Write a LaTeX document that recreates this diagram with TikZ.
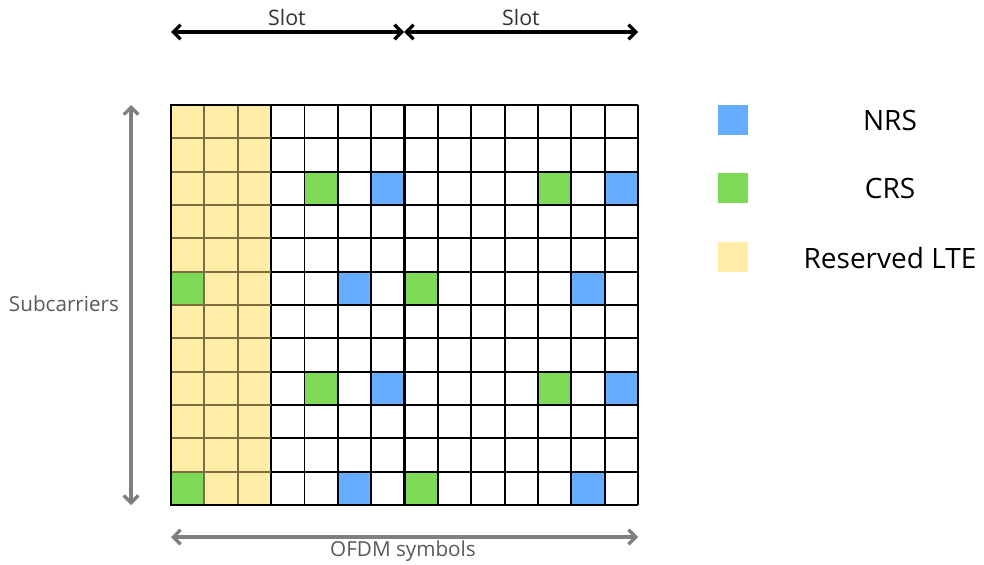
\documentclass[tikz,border=0pt]{standalone}
\usepackage{fontspec}
\setmainfont{Open Sans}
\usetikzlibrary{arrows.meta}

\definecolor{nrsblue}{HTML}{66ADFF}
\definecolor{crsgreen}{HTML}{7ED957}
\definecolor{lteyellow}{HTML}{FFEDA8}
\definecolor{lteline}{HTML}{7D6E40}
\definecolor{axisgray}{HTML}{7F7F7F}

\tikzset{
  slotarrow/.style={line width=2.4pt, black, {Straight Barb[length=5.5pt,width=11pt]}-{Straight Barb[length=5.5pt,width=11pt]}},
  axisarrow/.style={line width=2.4pt, axisgray, {Straight Barb[length=5.5pt,width=11pt]}-{Straight Barb[length=5.5pt,width=11pt]}},
  axislabel/.style={font=\fontsize{15.5}{17}\selectfont, text=black!65},
  legendlabel/.style={font=\fontsize{21}{24}\selectfont, text=black},
}

\begin{document}
\begin{tikzpicture}[x=0.75pt,y=-0.75pt]
\useasboundingbox (0,0) rectangle (984,564);
% grid corners and arrow ends
\coordinate (gridNW) at (171,105);
\coordinate (slotW) at (171,32);
\coordinate (slotM) at (404,32);
\coordinate (slotE) at (638,32);
\coordinate (subN) at (131,105);
\coordinate (subS) at (131,505);
\coordinate (symW) at (171,537);
\coordinate (symE) at (638,537);

% resource grid, one unit per resource element
\begin{scope}[shift={(gridNW)}, x=25.018pt, y=-25pt]
\fill[lteyellow] (0,0) rectangle (3,12);
\fill[crsgreen] (4,2) rectangle ++(1,1);
\fill[nrsblue] (6,2) rectangle ++(1,1);
\fill[crsgreen] (11,2) rectangle ++(1,1);
\fill[nrsblue] (13,2) rectangle ++(1,1);
\fill[crsgreen] (0,5) rectangle ++(1,1);
\fill[nrsblue] (5,5) rectangle ++(1,1);
\fill[crsgreen] (7,5) rectangle ++(1,1);
\fill[nrsblue] (12,5) rectangle ++(1,1);
\fill[crsgreen] (4,8) rectangle ++(1,1);
\fill[nrsblue] (6,8) rectangle ++(1,1);
\fill[crsgreen] (11,8) rectangle ++(1,1);
\fill[nrsblue] (13,8) rectangle ++(1,1);
\fill[crsgreen] (0,11) rectangle ++(1,1);
\fill[nrsblue] (5,11) rectangle ++(1,1);
\fill[crsgreen] (7,11) rectangle ++(1,1);
\fill[nrsblue] (12,11) rectangle ++(1,1);
\foreach \c in {3,...,14} \draw[line width=1.4pt] (\c,0) -- (\c,12);
\foreach \r in {0,...,12} \draw[line width=1.4pt] (3,\r) -- (14,\r);
\foreach \c in {1,2} \draw[line width=1.4pt, lteline] (\c,0) -- (\c,12);
\foreach \r in {1,...,11} \draw[line width=1.4pt, lteline] (0,\r) -- (3,\r);
\draw[line width=1.4pt] (3,0) -- (0,0) -- (0,12) -- (3,12);
\draw[line width=2pt] (7,0) -- (7,12);
\end{scope}

% slots
\draw[slotarrow] (slotW) -- (slotM);
\draw[slotarrow] (slotM) -- (slotE);
\node[axislabel, font=\fontsize{16}{18}\selectfont, text=black!80] (slotA) at (287,18) {Slot};
\node[axislabel, font=\fontsize{16}{18}\selectfont, text=black!80] (slotB) at (521,18) {Slot};

% axes
\draw[axisarrow] (subN) -- (subS);
\node[axislabel] (subLabel) at (64,304) {Subcarriers};
\draw[axisarrow] (symW) -- (symE);
\node[axislabel] (symLabel) at (403,551) {OFDM symbols};

% legend
\fill[nrsblue] (718,105) rectangle (748,135);
\fill[crsgreen] (718,173) rectangle (748,203);
\fill[lteyellow] (718,242) rectangle (748,272);
\node[legendlabel] (nrsLabel) at (890,120) {NRS};
\node[legendlabel] (crsLabel) at (890,188) {CRS};
\node[legendlabel] (lteLabel) at (890,258) {Reserved LTE};
\end{tikzpicture}
\end{document}
